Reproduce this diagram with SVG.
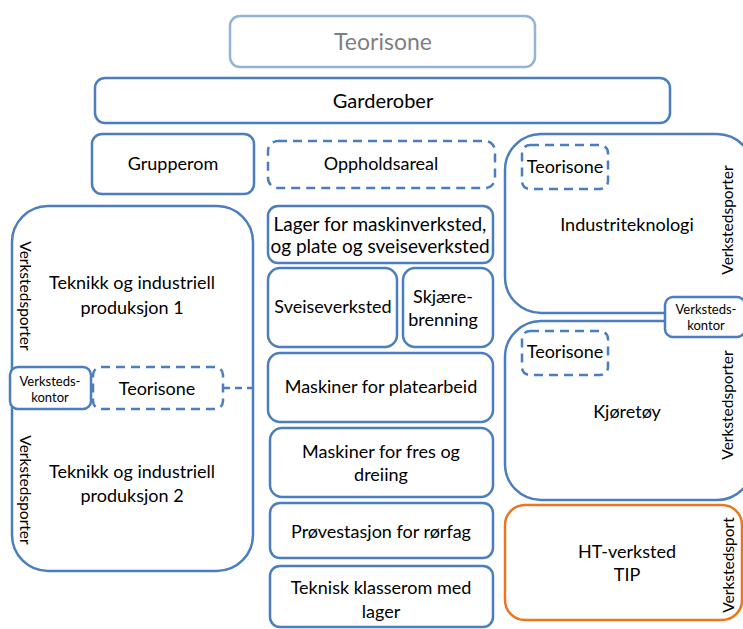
<svg xmlns="http://www.w3.org/2000/svg" width="743" height="629" viewBox="0 0 743 629">
<style>
.b{fill:#fff;stroke:#4A7EBF;stroke-width:2.5}
.d{fill:#fff;stroke:#4A7EBF;stroke-width:2.5;stroke-dasharray:9 6}
.o{fill:#fff;stroke:#EB7622;stroke-width:2.5}
.l{fill:#fff;stroke:#95B3D7;stroke-width:2.5}
text{font-family:Lato,"Liberation Sans",sans-serif;fill:#000;text-anchor:middle}
.t{font-size:18px}
.s{font-size:13px}
.v{font-size:15.5px}
</style>
<rect width="743" height="629" fill="#fff"/>
<g id="top-teorisone"><rect class="l" x="230" y="16" width="305" height="51" rx="10"/><text x="383" y="50" style="font-size:23px;fill:#7F7F7F">Teorisone</text></g>
<g id="garderober"><rect class="b" x="95" y="78" width="575" height="45" rx="10"/><text x="383" y="108" style="font-size:20px">Garderober</text></g>
<g id="grupperom"><rect class="b" x="92" y="134" width="162" height="60" rx="10"/><text class="t" x="173" y="170">Grupperom</text></g>
<g id="oppholdsareal"><rect class="d" x="268" y="141" width="227" height="47" rx="10"/><text class="t" x="381" y="170">Oppholdsareal</text></g>
<g id="tip"><rect class="b" x="12" y="206" width="241" height="365" rx="36"/>
<text class="t" x="132" y="289">Teknikk og industriell</text><text class="t" x="132" y="314">produksjon 1</text>
<text class="t" x="132" y="478">Teknikk og industriell</text><text class="t" x="132" y="502">produksjon 2</text>
<text class="v" transform="translate(20,296) rotate(90)">Verkstedsporter</text>
<text class="v" transform="translate(20,490) rotate(90)">Verkstedsporter</text></g>
<g id="verkstedskontor-left"><rect class="b" x="10" y="367" width="81" height="42" rx="8"/><text class="s" x="50" y="386">Verksteds-</text><text class="s" x="50" y="402">kontor</text></g>
<g id="teorisone-left"><rect class="d" x="93" y="367" width="130" height="42" rx="8"/><text class="t" x="157" y="395">Teorisone</text></g>
<g id="connectors"><line x1="223" y1="388" x2="253" y2="388" stroke="#4A7EBF" stroke-width="2.5" stroke-dasharray="7 5"/></g>
<g id="lager"><rect class="b" x="268" y="206" width="225" height="57" rx="10"/><text x="380" y="231" style="font-size:19px">Lager for maskinverksted,</text><text x="380" y="253" style="font-size:19px">og  plate og sveiseverksted</text></g>
<g id="sveiseverksted"><rect class="b" x="268" y="268" width="129" height="79" rx="12"/><text class="t" x="333" y="313">Sveiseverksted</text></g>
<g id="skjaerebrenning"><rect class="b" x="403" y="268" width="90" height="79" rx="12"/><text class="t" x="443" y="303">Skjære-</text><text class="t" x="443" y="326">brenning</text></g>
<g id="platearbeid"><rect class="b" x="268" y="353" width="225" height="69" rx="12"/><text class="t" x="381" y="393">Maskiner for platearbeid</text></g>
<g id="fres"><rect class="b" x="270" y="428" width="223" height="69" rx="12"/><text class="t" x="381" y="458">Maskiner for fres og</text><text class="t" x="381" y="481">dreiing</text></g>
<g id="provestasjon"><rect class="b" x="270" y="503" width="223" height="55" rx="10"/><text class="t" x="381" y="538">Prøvestasjon for rørfag</text></g>
<g id="klasserom"><rect class="b" x="270" y="566" width="223" height="61" rx="10"/><text class="t" x="381" y="594">Teknisk klasserom med</text><text class="t" x="381" y="618">lager</text></g>
<g id="industriteknologi"><rect class="b" x="505" y="134" width="248" height="179" rx="36"/>
<text class="t" x="627" y="231">Industriteknologi</text>
<text class="v" transform="translate(733,220) rotate(-90)">Verkstedsporter</text></g>
<g id="teorisone-ind"><rect class="d" x="522" y="145" width="86" height="44" rx="8"/><text class="t" x="565" y="173">Teorisone</text></g>
<g id="kjoretoy"><rect class="b" x="505" y="321" width="248" height="179" rx="36"/>
<text class="t" x="627" y="418">Kjøretøy</text>
<text class="v" transform="translate(733,405) rotate(-90)">Verkstedsporter</text></g>
<g id="teorisone-kjo"><rect class="d" x="522" y="331" width="86" height="44" rx="8"/><text class="t" x="565" y="358">Teorisone</text></g>
<g id="verkstedskontor-right"><rect class="b" x="665" y="297" width="80" height="40" rx="8"/><text class="s" x="706" y="314">Verksteds-</text><text class="s" x="706" y="330">kontor</text></g>
<g id="ht-verksted"><rect class="o" x="505" y="505" width="237" height="115" rx="20"/><text class="t" x="627" y="558">HT-verksted</text><text class="t" x="627" y="581">TIP</text>
<text class="v" transform="translate(734,565) rotate(-90)">Verkstedsport</text></g>
</svg>
